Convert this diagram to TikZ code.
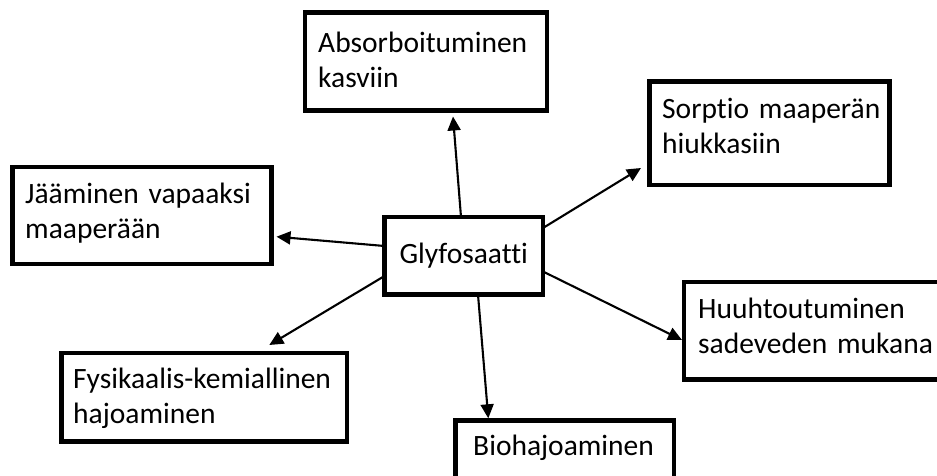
\documentclass[tikz,border=0pt]{standalone}
\usepackage{fontspec}
\setmainfont[Ligatures=NoCommon]{Carlito}
\usetikzlibrary{arrows.meta}
\begin{document}
\begin{tikzpicture}[x=1pt,y=-1pt,
  boxnode/.style={draw=black,line width=4.3pt,outer sep=0pt,inner sep=0pt,anchor=north west},
  txt/.style={inner sep=0pt,anchor=base west,align=left,text width=300pt,font=\fontsize{29.5}{35}\selectfont},
  arr/.style={line width=2.1pt,-{Triangle[length=14pt,width=13pt]}}]
\useasboundingbox (0,0) rectangle (937,476);
\clip (0,0) rectangle (937,476);
% boxes
\node[boxnode,minimum width=242pt,minimum height=98pt] (a) at (305,12.5) {};
\node[boxnode,minimum width=240pt,minimum height=103.5pt] (s) at (649.5,81.5) {};
\node[boxnode,minimum width=259pt,minimum height=97pt] (j) at (12.5,167) {};
\node[boxnode,minimum width=158.5pt,minimum height=77.5pt,font=\fontsize{29.5}{35}\selectfont] (g) at (384.5,217) {Glyfosaatti};
\node[boxnode,minimum width=280pt,minimum height=97.5pt] (h) at (684,282) {};
\node[boxnode,minimum width=285.5pt,minimum height=88.5pt] (f) at (61.5,353) {};
\node[boxnode,minimum width=218.5pt,minimum height=100pt] (b) at (455.5,420.5) {};
% texts
\node[txt] (ta) at (318,53) {Absorboituminen\\kasviin};
\node[txt] (ts) at (662,119) {Sorptio maaperän\\hiukkasiin};
\node[txt] (tj) at (25,203.5) {Jääminen vapaaksi\\maaperään};
\node[txt] (th) at (698,318) {Huuhtoutuminen\\sadeveden mukana};
\node[txt] (tf) at (73,388) {Fysikaalis-kemiallinen\\hajoaminen};
\node[txt] (tb) at (473,455) {Biohajoaminen};
% arrows
\draw[arr] ([xshift=-2.75pt]g.north) -- ([xshift=27pt,yshift=-6pt]a.south);
\draw[arr] ([yshift=-11pt]g.north east) -- ([xshift=-8.5pt,yshift=17pt]s.south west);
\draw[arr] ([xshift=1pt,yshift=-55pt]g.north east) -- ([xshift=-2pt,yshift=-58pt]h.north west);
\draw[arr] ([yshift=-29pt]g.north west) -- ([xshift=5pt,yshift=-69.7pt]j.north east);
\draw[arr] ([yshift=-59pt]g.north west) -- ([xshift=207.8pt,yshift=8pt]f.north west);
\draw[arr] ([xshift=93.5pt]g.south west) -- ([xshift=32.8pt,yshift=2.2pt]b.north west);
\end{tikzpicture}
\end{document}
